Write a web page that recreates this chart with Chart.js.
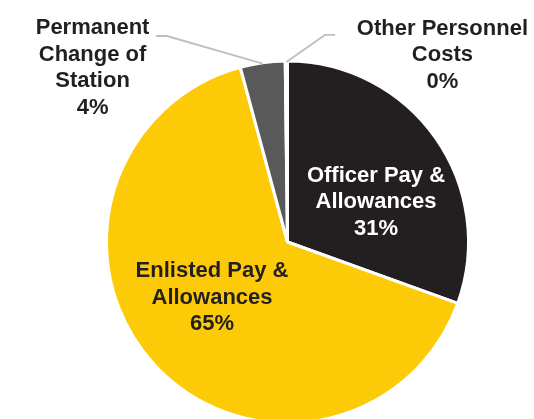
<!DOCTYPE html>
<html>
<head>
<meta charset="utf-8">
<title>Military Personnel Costs</title>
<script src="https://cdn.jsdelivr.net/npm/chart.js@4.4.1/dist/chart.umd.min.js"></script>
<style>
  html, body { margin: 0; padding: 0; background: #fff; overflow: hidden; }
  #wrap { position: relative; width: 534px; height: 419px; overflow: hidden; }
  #pie { position: absolute; left: 0; top: 0; }
</style>
</head>
<body>
<div id="wrap"><canvas id="pie" width="534" height="430"></canvas></div>
<script>
// --- datos ---
const categories = [
  ['Officer Pay &', 'Allowances'],
  ['Enlisted Pay &', 'Allowances'],
  ['Permanent', 'Change of', 'Station'],
  ['Other Personnel', 'Costs']
];
const shares = [30.5, 65.3, 4.0, 0.2];
const sliceColors = ['#231f20', '#fdca08', '#595959', '#c8c8c8'];

// donde va cada etiqueta (en fracciones del radio, respecto al centro)
const labelSpots = [
  { dx: 0.489, dy: -0.221, color: '#ffffff' },
  { dx: -0.417, dy: 0.309, color: '#231f20' },
  { dx: -1.077, dy: -0.961, color: '#231f20', leader: [-0.727, -0.666, -1.138] },
  { dx: 0.856, dy: -1.033, color: '#231f20', leader: [0.263, 0.207, -1.144] }
];

const FONT = 'bold 22px "Liberation Sans", Arial, Helvetica, sans-serif';
const LINE_H = 26.5;

const pieLabels = {
  id: 'pieLabels',
  afterDatasetsDraw(chart) {
    const ctx = chart.ctx;
    const arcs = chart.getDatasetMeta(0).data;
    const total = shares.reduce((a, b) => a + b, 0);
    ctx.save();
    arcs.forEach((arc, i) => {
      const { x, y, outerRadius, startAngle, endAngle } = arc.getProps(['x', 'y', 'outerRadius', 'startAngle', 'endAngle'], true);
      const spot = labelSpots[i];
      const r = outerRadius;

      // linea guia para las etiquetas de fuera
      if (spot.leader) {
        const mid = (startAngle + endAngle) / 2;
        const ex = x + Math.cos(mid) * (r - 1);
        const ey = y + Math.sin(mid) * (r - 1);
        ctx.strokeStyle = '#bfbfbf';
        ctx.lineWidth = 1.8;
        ctx.beginPath();
        ctx.moveTo(x + spot.leader[0] * r, y + spot.leader[2] * r);
        ctx.lineTo(x + spot.leader[1] * r, y + spot.leader[2] * r);
        ctx.lineTo(ex, ey);
        ctx.stroke();
      }

      const lines = categories[i].concat([Math.round(shares[i] / total * 100) + '%']);
      const cx = x + spot.dx * r;
      const cy = y + spot.dy * r;
      ctx.font = FONT;
      ctx.fillStyle = spot.color;
      ctx.textAlign = 'center';
      ctx.textBaseline = 'middle';
      const top = cy - (lines.length - 1) * LINE_H / 2;
      lines.forEach((t, k) => ctx.fillText(t, cx, top + k * LINE_H));
    });
    ctx.restore();
  }
};

new Chart(document.getElementById('pie').getContext('2d'), {
  type: 'pie',
  data: {
    labels: categories.map(c => c.join(' ')),
    datasets: [{
      data: shares,
      backgroundColor: sliceColors,
      borderColor: '#ffffff',
      borderWidth: 3
    }]
  },
  options: {
    responsive: false,
    animation: false,
    events: [],
    layout: { padding: { top: 59.5, bottom: 5.5, left: 105, right: 64 } },
    plugins: { legend: { display: false }, tooltip: { enabled: false } }
  },
  plugins: [pieLabels]
});
</script>
</body>
</html>
